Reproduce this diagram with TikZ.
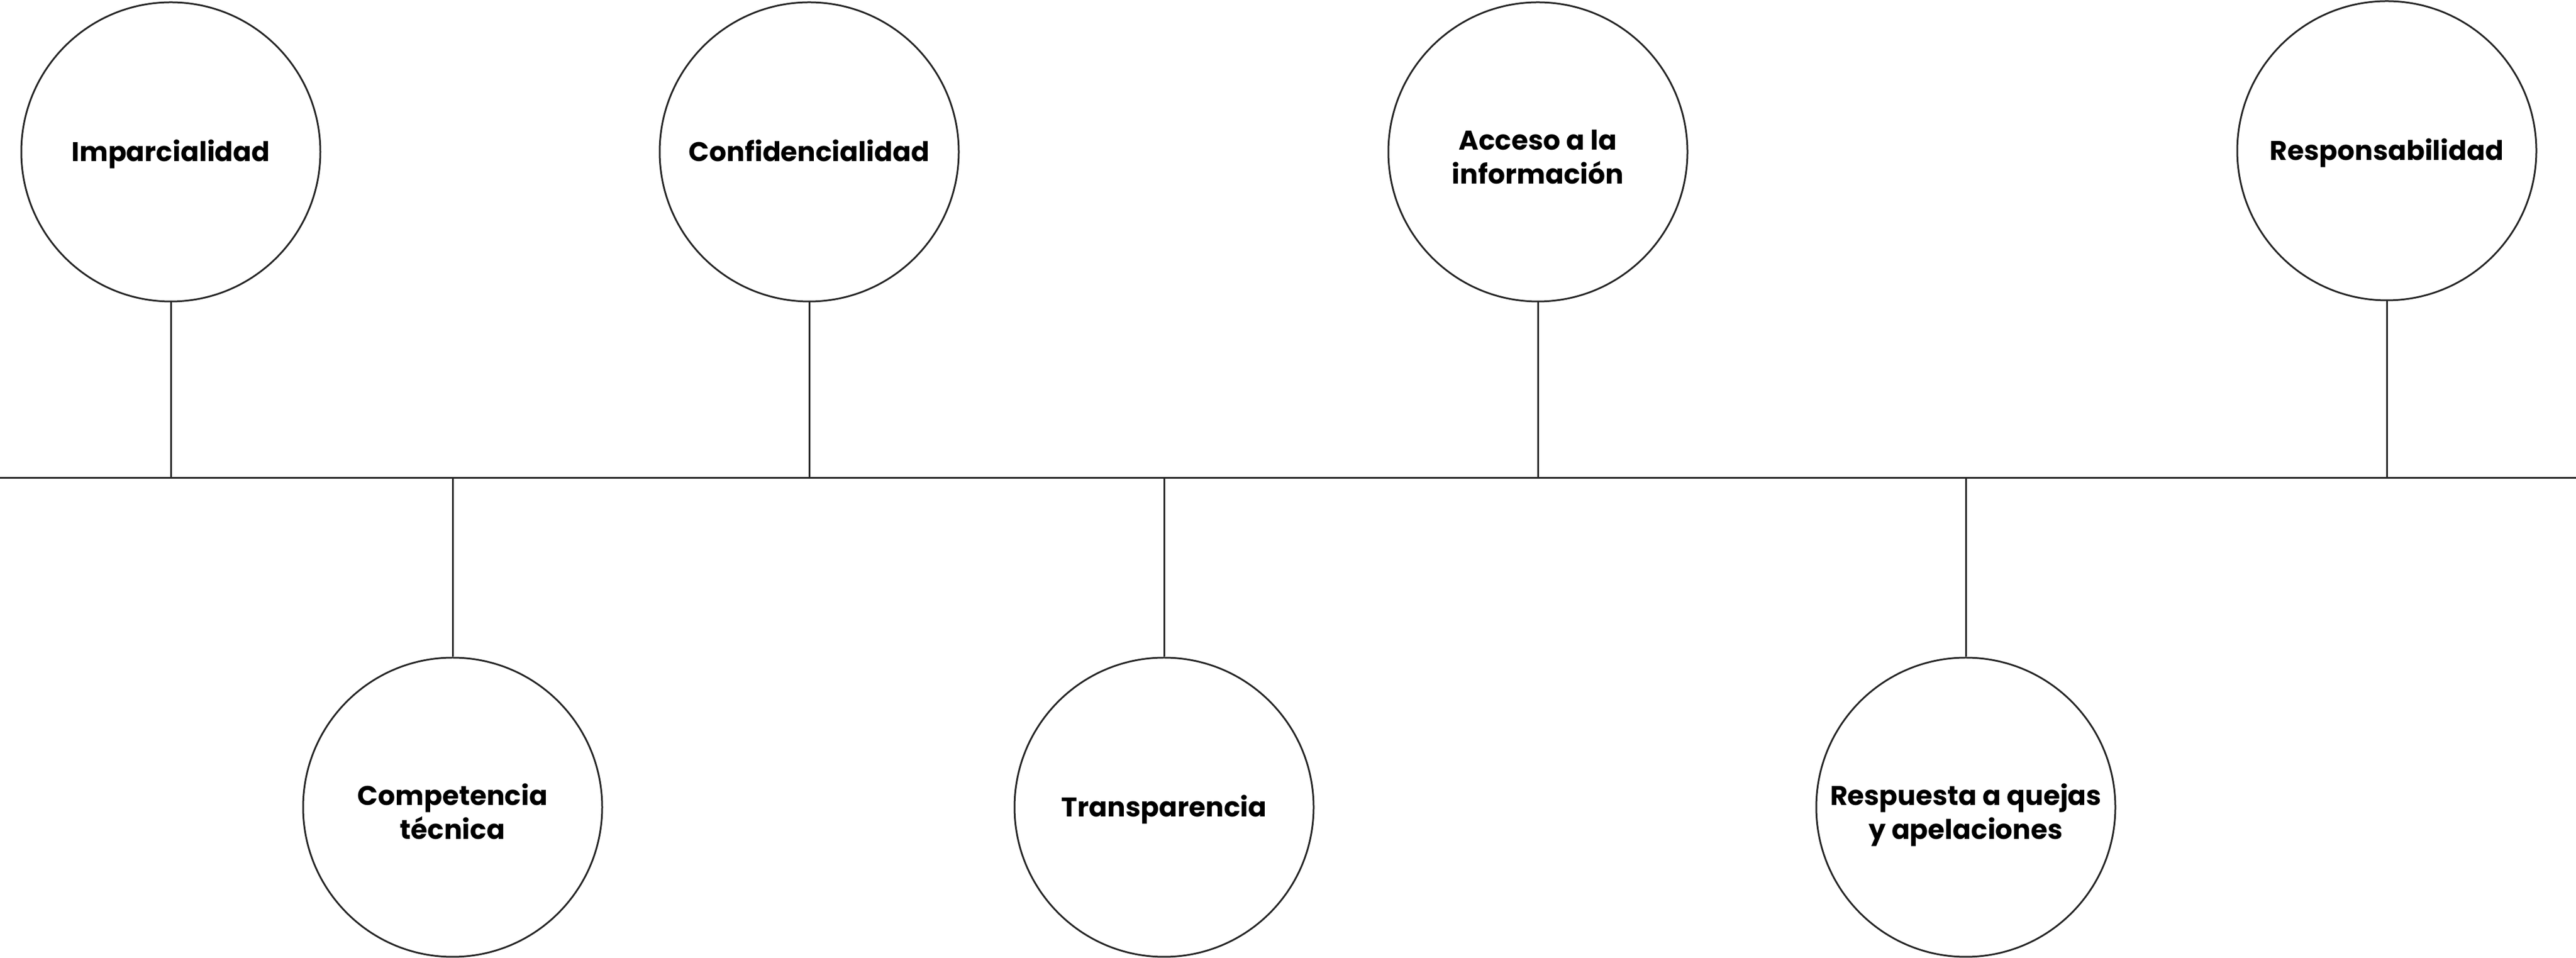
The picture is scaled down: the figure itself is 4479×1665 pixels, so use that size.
\documentclass[tikz,border=0pt]{standalone}
\usepackage{fontspec}
\setmainfont{Poppins}
\begin{document}
\begin{tikzpicture}[x=0.25pt,y=-0.25pt,
  line/.style={draw=black!85, line width=0.75pt},
  pcircle/.style={circle, draw=black!85, line width=0.75pt, fill=white,
    minimum size=130pt, inner sep=0pt, align=center,
    text height=8.5pt, text depth=0pt,
    font=\fontsize{11.75pt}{14.75pt}\selectfont\bfseries},
  twoline/.style={text height=28pt, text depth=0pt}]
\useasboundingbox[fill=white] (0,0) rectangle (4479,1665);
\coordinate (L) at (0,831);
\coordinate (R) at (4479,831);
\node[pcircle] (c1) at (297,264) {Imparcialidad};
\node[pcircle, twoline] (c2) at (787,1403) {Competencia\\técnica};
\node[pcircle] (c3) at (1407,264) {Confidencialidad};
\node[pcircle] (c4) at (2024,1403) {Transparencia};
\node[pcircle, twoline] (c5) at (2674,264) {Acceso a la\\información};
\node[pcircle, twoline] (c6) at (3418,1403) {Respuesta a quejas\\y apelaciones};
\node[pcircle] (c7) at (4150,262) {Responsabilidad};
\draw[line] (L) -- (R);
\foreach \n in {c1,c3,c5,c7} \draw[line] (\n.south) -- (\n |- L);
\foreach \n in {c2,c4,c6} \draw[line] (\n.north) -- (\n |- L);
\end{tikzpicture}
\end{document}
